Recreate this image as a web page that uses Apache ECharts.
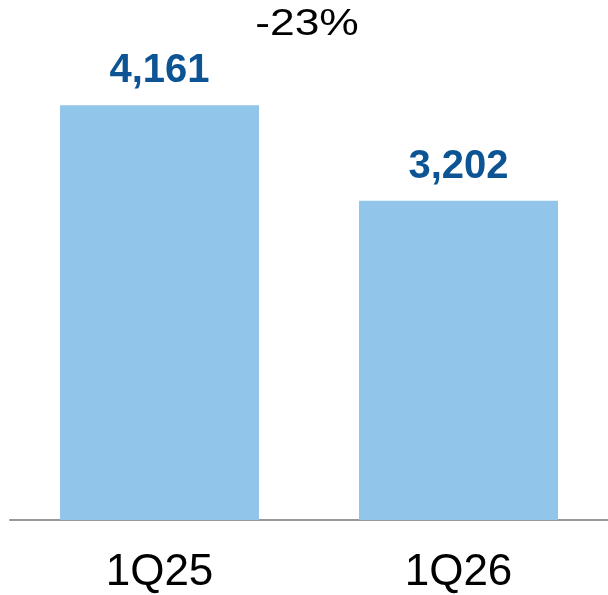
<!DOCTYPE html>
<html>
<head>
<meta charset="utf-8">
<script src="https://cdn.jsdelivr.net/npm/echarts@6/dist/echarts.min.js"></script>
<style>html,body{margin:0;padding:0;background:#fff}#c{width:608px;height:595px}</style>
</head>
<body>
<div id="c"></div>
<script>
var categories = ['1Q25', '1Q26'];
var values = [4161, 3202];
var changeLabel = '-23%';

var FONT = 'Liberation Sans, Arial, sans-serif';
var chart = echarts.init(document.getElementById('c'), null, {renderer: 'canvas'});
chart.setOption({
  animation: false,
  grid: {left: 10, right: 0, top: 21.5, bottom: 65.5, containLabel: false},
  xAxis: {
    type: 'category',
    data: categories,
    axisLine: {show: true, lineStyle: {color: '#999999', width: 2}},
    axisTick: {show: false},
    axisLabel: {color: '#000', fontSize: 44, fontFamily: FONT, margin: 31}
  },
  yAxis: {type: 'value', min: 0, max: 5000, show: false, splitLine: {show: false}},
  series: [{
    type: 'bar',
    data: values,
    barWidth: 199,
    itemStyle: {color: '#92C5EA'},
    label: {
      show: true,
      position: 'top',
      distance: 14,
      color: '#0D5494',
      fontSize: 40,
      fontWeight: 'bold',
      fontFamily: FONT,
      formatter: function (p) { return p.value.toLocaleString('en-US'); }
    }
  }],
  graphic: [{
    type: 'text',
    x: 307,
    y: 25,
    scaleX: 1.2,
    style: {text: changeLabel, fill: '#000', fontSize: 37, fontFamily: FONT, align: 'center', verticalAlign: 'middle'}
  }]
});
</script>
</body>
</html>
